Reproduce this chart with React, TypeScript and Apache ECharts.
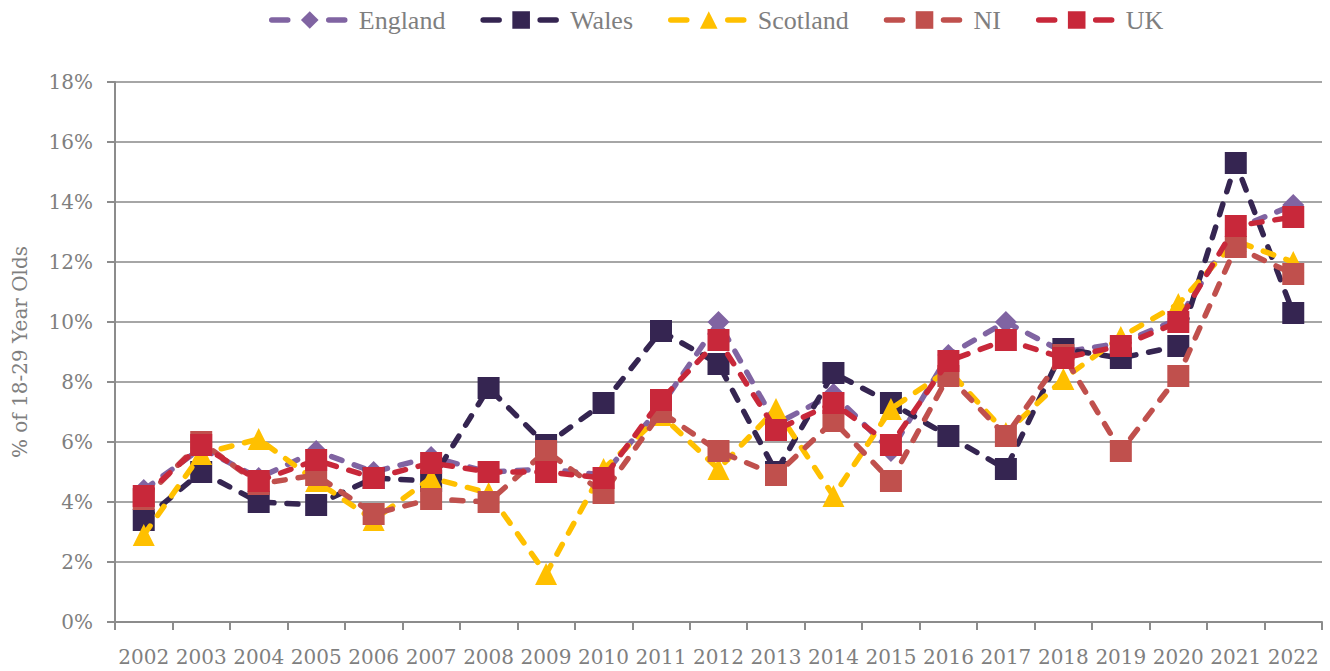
import React, { useEffect, useRef } from "react";
import * as echarts from "echarts";

const years = ["2002","2003","2004","2005","2006","2007","2008","2009","2010","2011","2012","2013","2014","2015","2016","2017","2018","2019","2020","2021","2022"];

const england = [4.4, 5.8, 4.8, 5.7, 5.0, 5.5, 5.0, 5.1, 4.9, 7.2, 10.0, 6.6, 7.6, 5.7, 8.9, 10.0, 9.0, 9.3, 10.1, 13.1, 13.9];
const wales = [3.4, 5.0, 4.0, 3.9, 4.8, 4.7, 7.8, 5.9, 7.3, 9.7, 8.6, 5.0, 8.3, 7.3, 6.2, 5.1, 9.1, 8.8, 9.2, 15.3, 10.3];
const scotland = [2.9, 5.6, 6.1, 4.7, 3.4, 4.8, 4.3, 1.6, 5.1, 6.9, 5.1, 7.1, 4.2, 7.1, 8.4, 6.3, 8.1, 9.5, 10.6, 12.7, 12.0];
const ni = [4.1, 6.0, 4.6, 4.9, 3.6, 4.1, 4.0, 5.7, 4.3, 7.0, 5.7, 4.9, 6.7, 4.7, 8.2, 6.2, 8.9, 5.7, 8.2, 12.5, 11.6];
const uk = [4.2, 5.9, 4.7, 5.4, 4.8, 5.3, 5.0, 5.0, 4.8, 7.4, 9.4, 6.4, 7.3, 5.9, 8.7, 9.4, 8.8, 9.2, 10.0, 13.2, 13.5];

const seriesNames = ["England", "Wales", "Scotland", "NI", "UK"];
const seriesColors = ["#8064A2", "#352551", "#FFC000", "#C0504D", "#C8283A"];
const seriesSymbols = ["diamond", "rect", "triangle", "rect", "rect"];
const seriesData = [england, wales, scotland, ni, uk];

const yTicks = [0, 2, 4, 6, 8, 10, 12, 14, 16, 18];

export default function App() {
  const ref = useRef<HTMLDivElement>(null);
  useEffect(() => {
    if (!ref.current) return;
    const chart = echarts.init(ref.current, null, { renderer: "svg" });
    const labelFont = "'DejaVu Serif', serif";
    chart.setOption({
      animation: false,
      backgroundColor: "#ffffff",
      legend: {
        top: 2,
        left: 264,
        itemWidth: 76,
        itemHeight: 22,
        itemGap: 35,
        data: seriesNames,
        lineStyle: { width: 5.5, type: [16, 41], cap: "round" },
        textStyle: {
          fontFamily: "'Liberation Serif', serif",
          fontSize: 26,
          color: "#7f7f7f",
          padding: [0, 0, 0, 6],
        },
      },
      grid: {
        left: 115,
        right: 8,
        top: 82,
        bottom: 49,
        outerBoundsMode: "none",
      },
      xAxis: {
        type: "category",
        data: years,
        boundaryGap: true,
        axisLine: { lineStyle: { color: "#8c8c8c", width: 2 } },
        axisTick: { show: true, length: 8, lineStyle: { color: "#8c8c8c", width: 2 } },
        axisLabel: {
          color: "#7f7f7f",
          fontFamily: labelFont,
          fontSize: 20,
          margin: 25,
          interval: 0,
        },
        splitLine: { show: false },
      },
      yAxis: {
        type: "value",
        min: 0,
        max: 18,
        interval: 2,
        name: "% of 18-29 Year Olds",
        nameLocation: "middle",
        nameGap: 85,
        nameTextStyle: {
          color: "#7f7f7f",
          fontFamily: labelFont,
          fontSize: 20,
        },
        axisLine: { show: true, lineStyle: { color: "#8c8c8c", width: 2 } },
        axisTick: { show: true, length: 8, lineStyle: { color: "#8c8c8c", width: 2 } },
        axisLabel: {
          color: "#7f7f7f",
          fontFamily: labelFont,
          fontSize: 20,
          margin: 22,
          formatter: (v: number) => (yTicks.includes(v) ? `${v}%` : ""),
        },
        splitLine: { show: true, lineStyle: { color: "#a6a6a6", width: 2 } },
      },
      series: seriesNames.map((name, i) => ({
        name,
        type: "line",
        data: seriesData[i],
        symbol: seriesSymbols[i],
        symbolSize: 22,
        showSymbol: true,
        z: 2 + i,
        lineStyle: {
          color: seriesColors[i],
          width: 5.5,
          type: [11, 13],
          cap: "round",
        },
        itemStyle: { color: seriesColors[i], borderWidth: 0 },
        emphasis: { disabled: true },
      })),
    });
    return () => chart.dispose();
  }, []);
  return (
    <div
      ref={ref}
      style={{ position: "fixed", left: 0, top: 0, width: 1330, height: 671 }}
    />
  );
}
